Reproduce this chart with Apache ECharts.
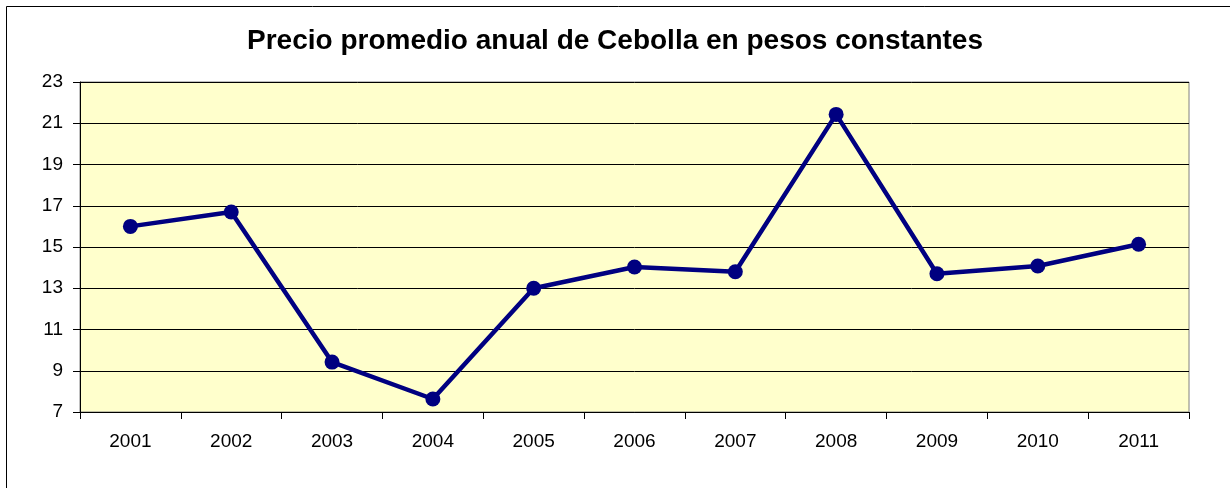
<!DOCTYPE html>
<html><head><meta charset="utf-8">
<script src="https://cdn.jsdelivr.net/npm/echarts@6/dist/echarts.min.js"></script>
<style>html,body{margin:0;padding:0;background:#fff}#c{width:1230px;height:488px}</style>
</head><body><div id="c"></div>
<script>
const titleText = 'Precio promedio anual de Cebolla en pesos constantes';
const years = ['2001','2002','2003','2004','2005','2006','2007','2008','2009','2010','2011'];
const precio = [16.0, 16.7, 9.42, 7.63, 13.0, 14.03, 13.8, 21.43, 13.7, 14.08, 15.13];
const yTicks = [7, 9, 11, 13, 15, 17, 19, 21, 23];

const chart = echarts.init(document.getElementById('c'), null, {renderer: 'canvas'});
chart.setOption({
  animation: false,
  backgroundColor: '#fff',
  graphic: [{
    type: 'rect', z: 100, silent: true,
    shape: {x: 6.5, y: 6.5, width: 1240, height: 500},
    style: {fill: 'none', stroke: '#000', lineWidth: 1}
  }],
  title: {
    text: titleText, left: 'center', top: 22,
    textStyle: {fontFamily: 'Liberation Sans, Arial', fontWeight: 'bold', fontSize: 28, color: '#000'}
  },
  grid: {
    left: 80, right: 41, top: 82, bottom: 76, show: true,
    backgroundColor: '#FFFFCC', borderColor: '#808080', borderWidth: 1
  },
  xAxis: {
    type: 'category', data: years, boundaryGap: true,
    axisLine: {lineStyle: {color: '#000', width: 1}},
    axisTick: {show: true, length: 7, lineStyle: {color: '#000'}, alignWithLabel: false},
    axisLabel: {fontFamily: 'Liberation Sans, Arial', fontSize: 19, color: '#000', margin: 20},
    splitLine: {show: false}
  },
  yAxis: {
    type: 'value', min: yTicks[0], max: yTicks[yTicks.length - 1], interval: 2,
    axisLine: {show: true, lineStyle: {color: '#000', width: 1}},
    axisTick: {show: true, length: 7, lineStyle: {color: '#000'}},
    axisLabel: {fontFamily: 'Liberation Sans, Arial', fontSize: 19, color: '#000', margin: 17},
    splitLine: {show: true, lineStyle: {color: '#000', width: 1}}
  },
  series: [{
    type: 'line', data: precio,
    symbol: 'circle', symbolSize: 15,
    lineStyle: {color: '#000080', width: 4.5},
    itemStyle: {color: '#000080'}
  }]
});
</script></body></html>
